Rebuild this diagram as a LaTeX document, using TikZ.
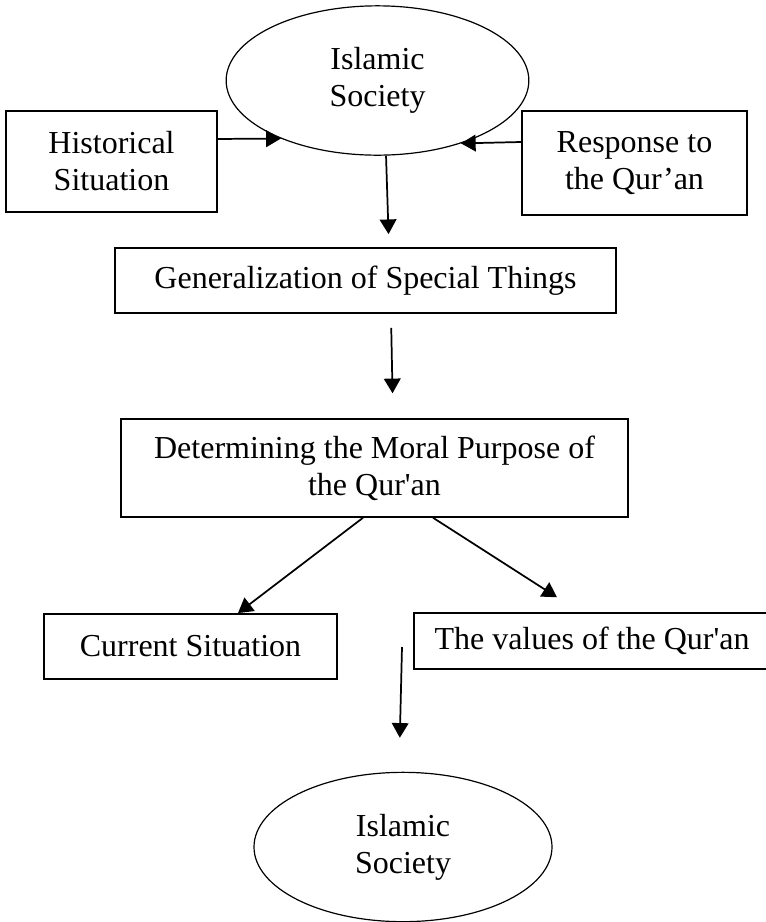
\documentclass[tikz,border=0pt]{standalone}
\usepackage{fontspec}
\setmainfont{Liberation Serif}
\usetikzlibrary{shapes.geometric,arrows.meta}
\begin{document}
\begin{tikzpicture}[x=0.75pt, y=-0.75pt,
          every node/.style = {align=center, inner sep=0pt, font=\fontsize{24}{27.75}\selectfont},
          textbox/.style={shape=rectangle, draw, line width=1.1pt},
          society/.style={shape=ellipse, draw, line width=0.9pt, minimum height=112pt},
          flow/.style={-{Triangle[length=11pt,width=12.5pt]}, line width=1.3pt}]
          \useasboundingbox (0,0) rectangle (766,922);
          % Top: the society with the two inputs pointing at it
          \node(soc1)[society, minimum width=227pt] at (377.5,80.5) {Islamic\\Society};
          \node(hist)[textbox, minimum width=158pt, minimum height=76pt] at (111.5,161.5) {Historical\\Situation};
          \node(resp)[textbox, minimum width=169pt, minimum height=78pt] at (634.5,163) {Response to\\the Qur’an};
          % Middle: the two steps
          \node(gen)[textbox, minimum width=376pt, minimum height=49pt] at (365.5,280.5) {Generalization of Special Things};
          \node(det)[textbox, minimum width=380pt, minimum height=73.5pt] at (374.5,468) {Determining the Moral Purpose of\\the Qur\textquotesingle an};
          % Bottom: the split and the new society
          \node(cur)[textbox, minimum width=220pt, minimum height=49pt] at (190.5,646.5) {Current Situation};
          \node(val)[textbox, minimum width=267pt, minimum height=42pt] at (592,641) {The values of the Qur\textquotesingle an};
          \node(soc2)[society, minimum width=223.5pt] at (403,847) {Islamic\\Society};
          \coordinate(gap) at (402,647);
          % Arrows
          \draw[flow] ([yshift=16.9pt]hist.east) -- (soc1.211);
          \draw[flow] ([yshift=15.75pt]resp.west) -- (soc1.323.5);
          \draw[flow, shorten >=9.75pt] ([xshift=6.4pt]soc1.south) -- ([xshift=17.6pt]gen.north);
          \draw[flow, shorten <=10.5pt, shorten >=18.75pt] ([xshift=19.1pt]gen.south) -- ([xshift=13.9pt]det.north);
          \draw[flow] ([xshift=-8.6pt]det.south) -- ([xshift=35.6pt]cur.north);
          \draw[flow] ([xshift=43.9pt]det.south) -- ([xshift=-26.25pt,yshift=11.25pt]val.north);
          \draw[flow, shorten >=25.5pt] (gap) -- ([xshift=-3pt]soc2.north);
        \end{tikzpicture}
\end{document}
